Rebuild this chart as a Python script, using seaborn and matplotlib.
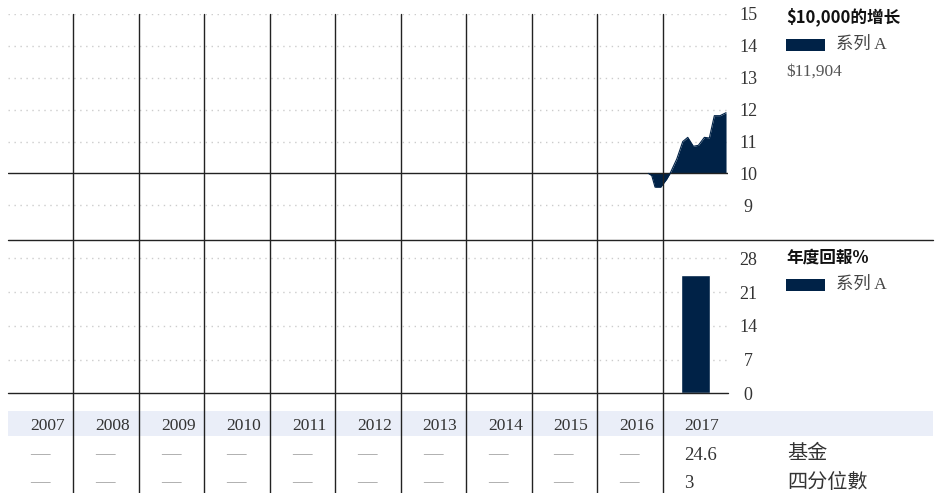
import matplotlib
matplotlib.use("Agg")
import matplotlib.pyplot as plt
import matplotlib.transforms as mtransforms
from matplotlib.lines import Line2D
from matplotlib.patches import Rectangle
import pandas as pd
import seaborn as sns
import numpy as np

# ---- data ----
years = list(range(2007, 2018))

# growth of $10,000 (thousands), time in fractional years
growth_t = [2016.783, 2016.835, 2016.885, 2016.973, 2017.064, 2017.115, 2017.217,
            2017.309, 2017.385, 2017.471, 2017.547, 2017.639, 2017.715, 2017.791,
            2017.878, 2017.970]
growth_v = [10.00, 9.93, 9.57, 9.57, 9.82, 10.00, 10.45, 11.00, 11.13, 10.85,
            10.88, 11.13, 11.11, 11.81, 11.81, 11.904]

return_years = [2017]
return_vals = [24.6]

fund_row = ["—"] * 10 + ["24.6"]
quartile_row = ["—"] * 10 + ["3"]

top_ticks = [9, 10, 11, 12, 13, 14, 15]
bot_ticks = [0, 7, 14, 21, 28]

navy = "#002247"
W, H = 947, 493

sns.set_theme(style="white")
plt.rcParams['font.family'] = ['Liberation Serif', 'Noto Sans CJK SC', 'DejaVu Sans']
cjk_bold = ['Noto Sans CJK SC', 'DejaVu Sans']

fig = plt.figure(figsize=(W / 100, H / 100), dpi=100)


def fy(py):
    return (H - py) / H


ax_top = fig.add_axes([8 / W, fy(240), 720 / W, (240 - 14) / H])
ax_bot = fig.add_axes([8 / W, fy(393.3), 720 / W, (393.3 - 240) / H])

# ---- growth panel ----
ax_top.fill_between(growth_t, growth_v, 10, color=navy, lw=0)
sns.lineplot(x=growth_t, y=growth_v, color=navy, lw=0.8, ax=ax_top)
ax_top.set_xlim(2007, 2018)
ax_top.set_ylim(7.91, 15)
ax_top.set_yticks(top_ticks)
for t in top_ticks:
    if t == 10:
        ax_top.axhline(t, color="#222222", lw=1, zorder=1)
    else:
        ax_top.axhline(t, color="#cccccc", lw=1, ls=(0, (1, 3.3)), zorder=0)

# ---- annual return panel ----
df = pd.DataFrame({"year": [str(y) for y in return_years], "ret": return_vals})
sns.barplot(data=df, x="year", y="ret", order=[str(y) for y in years],
            color=navy, width=0.44, saturation=1, ax=ax_bot)
ax_bot.set_xlim(-0.5, 10.5)
ax_bot.set_ylim(0, 31.8)
ax_bot.set_yticks(bot_ticks)
for t in bot_ticks:
    if t == 0:
        ax_bot.axhline(t, color="#222222", lw=1, zorder=3, clip_on=False)
    else:
        ax_bot.axhline(t, color="#cccccc", lw=1, ls=(0, (1, 3.3)), zorder=0)

for ax in (ax_top, ax_bot):
    ax.yaxis.tick_right()
    ax.tick_params(axis='y', length=0, pad=14.4, labelsize=13, labelcolor="#333333")
    ax.tick_params(axis='x', bottom=False, labelbottom=False)
    for lab in ax.get_yticklabels():
        lab.set_horizontalalignment('center')
        lab.set_verticalalignment('center_baseline')
    ax.set_xlabel("")
    ax.set_ylabel("")
    for s in ax.spines.values():
        s.set_visible(False)
    ax.patch.set_alpha(0)

# ---- separators and table ----
blend = mtransforms.blended_transform_factory(ax_top.transData, fig.transFigure)
for y in years[1:]:
    fig.add_artist(Line2D([y, y], [fy(14), fy(493)], transform=blend,
                          color="#222222", lw=1, zorder=2))

fig.add_artist(Line2D([8 / W, 933 / W], [fy(240), fy(240)], transform=fig.transFigure,
                      color="#222222", lw=1))
fig.add_artist(Rectangle((8 / W, fy(436)), 925 / W, 25 / H, transform=fig.transFigure,
                         facecolor="#eaeef8", edgecolor="none", zorder=0))

off = 22 / 65.45
for i, y in enumerate(years):
    fig.text(y + off, fy(426), str(y), transform=blend, ha='left', va='center',
             fontsize=12.5, color="#333333")
    dash = fund_row[i] == "—"
    fig.text(y + off, fy(455), fund_row[i], transform=blend, ha='left', va='center',
             fontsize=14 if dash else 13.5, color="#999999" if dash else "#333333")
    dash = quartile_row[i] == "—"
    fig.text(y + off, fy(483), quartile_row[i], transform=blend, ha='left', va='center',
             fontsize=14 if dash else 13.5, color="#999999" if dash else "#333333")

fig.text(787 / W, fy(455), "基金", ha='left', va='center', fontsize=14.5, color="#333333")
fig.text(787 / W, fy(483), "四分位數", ha='left', va='center', fontsize=14.5, color="#333333")

# ---- legends ----
fig.text(786 / W, fy(17), "$10,000的增长", ha='left', va='center', fontsize=12,
         fontweight='bold', family=cjk_bold, color="#111111")
fig.add_artist(Rectangle((786 / W, fy(50.7)), 39 / W, 11.4 / H, transform=fig.transFigure,
                         facecolor=navy, edgecolor="none"))
fig.text(836 / W, fy(45), "系列 A", ha='left', va='center', fontsize=12.5, color="#444444")
fig.text(786 / W, fy(72), "$11,904", ha='left', va='center', fontsize=12.5, color="#555555")

fig.text(786 / W, fy(258), "年度回報%", ha='left', va='center', fontsize=12,
         fontweight='bold', family=cjk_bold, color="#111111")
fig.add_artist(Rectangle((786 / W, fy(290.7)), 39 / W, 11.4 / H, transform=fig.transFigure,
                         facecolor=navy, edgecolor="none"))
fig.text(836 / W, fy(285), "系列 A", ha='left', va='center', fontsize=12.5, color="#444444")

fig.savefig("out.png", dpi=100)
